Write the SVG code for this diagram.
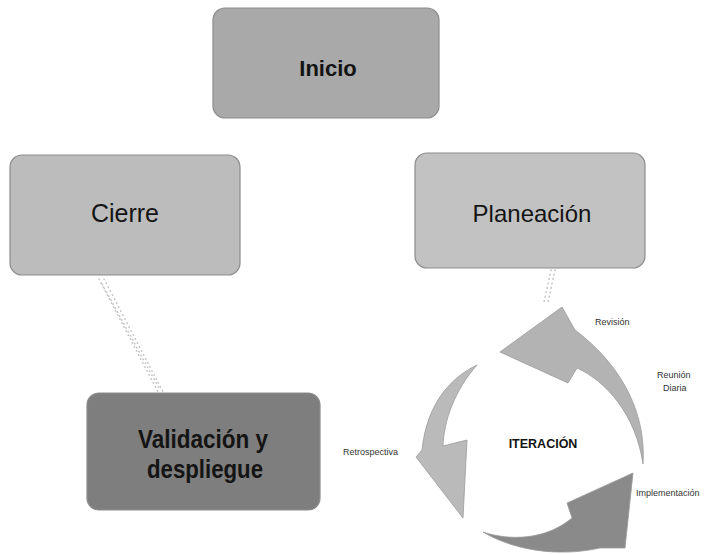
<svg xmlns="http://www.w3.org/2000/svg" width="707" height="554" viewBox="0 0 707 554">
<style>
.box{stroke:#8c8c8c;stroke-width:1.2}
.big{font-family:"Liberation Sans",Arial,sans-serif;fill:#141414;text-anchor:middle}
.lbl{font-family:"Liberation Sans",Arial,sans-serif;font-size:9px;fill:#333333}
.dot{fill:none;stroke:#c4c4c4;stroke-width:1.6;stroke-linecap:round;stroke-dasharray:0.5 4}
.arr{stroke:#9a9a9a;stroke-width:0.8}
</style>
<rect width="707" height="554" fill="#ffffff"/>
<g id="connectors">
<path class="dot" d="M99 279 L158 392"/>
<path class="dot" d="M104 279 L163 392"/>
<path class="dot" d="M101 282 L160 390" stroke-dashoffset="2"/>
<path class="dot" d="M551 270 L544 302"/>
<path class="dot" d="M555 270 L548 302"/>
</g>
<g id="inicio">
<rect class="box" x="213" y="8" width="226" height="110" rx="12" fill="#a9a9a9"/>
<text class="big" x="328" y="76" font-size="22" font-weight="bold">Inicio</text>
</g>
<g id="cierre">
<rect class="box" x="10" y="155" width="230" height="120" rx="12" fill="#bcbcbc"/>
<text class="big" x="125" y="222" font-size="25">Cierre</text>
</g>
<g id="planeacion">
<rect class="box" x="415" y="153" width="230" height="115" rx="12" fill="#c2c2c2"/>
<text class="big" x="532" y="222" font-size="24">Planeación</text>
</g>
<g id="validacion">
<rect class="box" x="87" y="393" width="233" height="117" rx="12" fill="#7e7e7e"/>
<text class="big" x="203" y="448" font-size="26" font-weight="bold" fill="#262626" textLength="130" lengthAdjust="spacingAndGlyphs">Validación y</text>
<text class="big" x="205" y="478" font-size="26" font-weight="bold" fill="#262626" textLength="116" lengthAdjust="spacingAndGlyphs">despliegue</text>
</g>
<g id="iteracion">
<path id="arrow-revision" class="arr" fill="#b3b3b3" d="M643 464 C646 420 628 370 575 330 L562 307 L500 352 L568 383 L577 368 C606 381 636 415 643 464 Z"/>
<path id="arrow-retro" class="arr" fill="#bababa" d="M477 365 C452 377 427 402 422 450 L416 457 L463 518 L467 440 L443 446 C444 420 455 390 477 365 Z"/>
<path id="arrow-impl" class="arr" fill="#8a8a8a" d="M483 532 C510 541 546 540 572 518 L567 503 L633 473 L625 548 L600 548 C560 557 515 551 483 532 Z"/>
<text x="543" y="448" font-family="Liberation Sans,Arial,sans-serif" font-size="12.5" font-weight="bold" fill="#141414" text-anchor="middle">ITERACIÓN</text>
<text class="lbl" x="595" y="325">Revisión</text>
<text class="lbl" x="657" y="378">Reunión</text>
<text class="lbl" x="663" y="391">Diaria</text>
<text class="lbl" x="636" y="496">Implementación</text>
<text class="lbl" x="343" y="455">Retrospectiva</text>
</g>
</svg>
